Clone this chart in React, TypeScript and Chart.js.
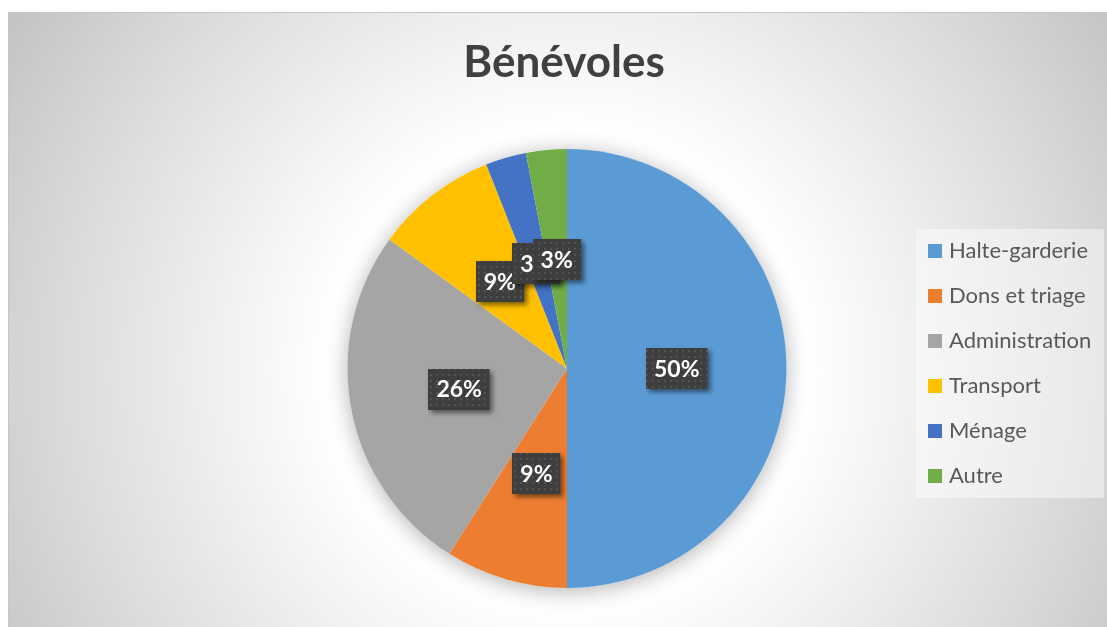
import React, { useEffect, useRef } from 'react';
import { Chart, registerables } from 'chart.js';
Chart.register(...registerables);

const chartTitle = 'Bénévoles';
const categories = ['Halte-garderie', 'Dons et triage', 'Administration', 'Transport', 'Ménage', 'Autre'];
const values = [50, 9, 26, 9, 3, 3];
const colors = ['#5B9BD5', '#ED7D31', '#A5A5A5', '#FFC000', '#4472C4', '#70AD47'];

const W = 1099;
const H = 615;
const FONT = 'Lato, "Open Sans", sans-serif';

export default function App() {
  const ref = useRef<HTMLCanvasElement>(null);

  useEffect(() => {
    const canvas = ref.current;
    if (!canvas) return;

    const pat = document.createElement('canvas');
    pat.width = 6;
    pat.height = 6;
    const pc = pat.getContext('2d')!;
    pc.fillStyle = '#3e3e3e';
    pc.fillRect(0, 0, 6, 6);
    pc.fillStyle = '#525252';
    pc.fillRect(2, 2, 2, 2);

    const bgPlugin = {
      id: 'bgPlugin',
      beforeDraw(chart: any) {
        const ctx = chart.ctx as CanvasRenderingContext2D;
        const meta = chart.getDatasetMeta(0);
        const a = meta.data[0] as any;
        const cx = a ? a.x : W / 2;
        const cy = a ? a.y : H / 2;
        ctx.save();
        const g = ctx.createRadialGradient(cx, cy, 0, cx, cy, 660);
        g.addColorStop(0, '#ffffff');
        g.addColorStop(0.36, '#ffffff');
        g.addColorStop(0.5, '#f3f3f3');
        g.addColorStop(0.75, '#dcdcdc');
        g.addColorStop(1, '#c3c3c3');
        ctx.fillStyle = g;
        ctx.fillRect(0, 0, W, H);
        ctx.strokeStyle = '#c6c6c6';
        ctx.lineWidth = 1;
        ctx.beginPath();
        ctx.moveTo(0.5, H);
        ctx.lineTo(0.5, 0.5);
        ctx.lineTo(W, 0.5);
        ctx.stroke();

        // title
        ctx.fillStyle = '#404040';
        ctx.font = `bold 44px ${FONT}`;
        ctx.textAlign = 'center';
        ctx.textBaseline = 'alphabetic';
        ctx.fillText(chartTitle, 556, 65);

        // legend
        ctx.fillStyle = 'rgba(255,255,255,0.45)';
        ctx.fillRect(908, 217, 188, 269);
        ctx.font = `22px ${FONT}`;
        ctx.textAlign = 'left';
        ctx.textBaseline = 'middle';
        categories.forEach((c, i) => {
          const top = 232 + i * 45;
          ctx.fillStyle = colors[i];
          ctx.fillRect(920, top, 14, 14);
          ctx.fillStyle = '#595959';
          ctx.fillText(c, 941, top + 7);
        });
        ctx.restore();
      },
      beforeDatasetsDraw(chart: any) {
        const ctx = chart.ctx as CanvasRenderingContext2D;
        const a = chart.getDatasetMeta(0).data[0] as any;
        if (!a) return;
        ctx.save();
        ctx.shadowColor = 'rgba(0,0,0,0.3)';
        ctx.shadowBlur = 22;
        ctx.shadowOffsetY = 3;
        ctx.fillStyle = '#ffffff';
        ctx.beginPath();
        ctx.arc(a.x, a.y, a.outerRadius, 0, Math.PI * 2);
        ctx.fill();
        ctx.restore();
      },
      afterDatasetsDraw(chart: any) {
        const ctx = chart.ctx as CanvasRenderingContext2D;
        const meta = chart.getDatasetMeta(0);
        const total = values.reduce((s, v) => s + v, 0);
        ctx.save();
        ctx.font = `bold 23px ${FONT}`;
        meta.data.forEach((arc: any, i: number) => {
          const p = arc.getCenterPoint();
          const txt = Math.round((values[i] / total) * 100) + '%';
          const tw = ctx.measureText(txt).width;
          const bw = tw + 16;
          const bh = 41;
          const bx = Math.round(p.x - bw / 2);
          const by = Math.round(p.y - bh / 2);
          ctx.save();
          ctx.shadowColor = 'rgba(0,0,0,0.5)';
          ctx.shadowBlur = 5;
          ctx.shadowOffsetX = 3;
          ctx.shadowOffsetY = 3;
          ctx.fillStyle = ctx.createPattern(pat, 'repeat') as CanvasPattern;
          ctx.fillRect(bx, by, bw, bh);
          ctx.restore();
          ctx.fillStyle = '#ffffff';
          ctx.textAlign = 'center';
          ctx.textBaseline = 'middle';
          ctx.fillText(txt, p.x, p.y + 1);
        });
        ctx.restore();
      },
    };

    const chart = new Chart(canvas, {
      type: 'pie',
      data: {
        labels: categories,
        datasets: [
          {
            data: values,
            backgroundColor: colors,
            borderWidth: 0,
            hoverOffset: 0,
            offset: 0,
          },
        ],
      },
      options: {
        animation: false,
        responsive: false,
        maintainAspectRatio: false,
        events: [],
        layout: { padding: { left: 339.5, right: 320.5, top: 137, bottom: 39 } },
        plugins: {
          legend: { display: false },
          title: { display: false },
          tooltip: { enabled: false },
        },
      },
      plugins: [bgPlugin],
    });

    return () => chart.destroy();
  }, []);

  return (
    <div style={{ position: 'absolute', left: 8, top: 12, width: W, height: H }}>
      <canvas ref={ref} width={W} height={H} style={{ display: 'block' }} />
    </div>
  );
}
